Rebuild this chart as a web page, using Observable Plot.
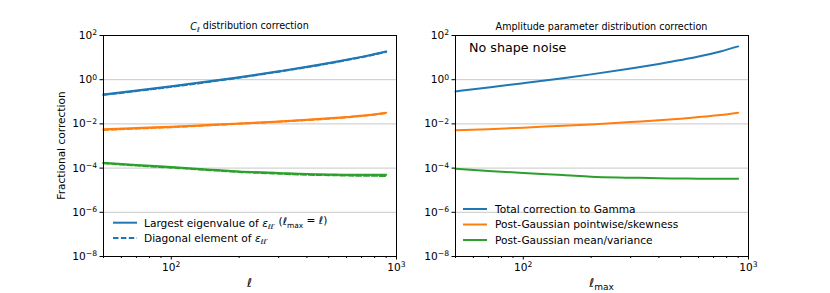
<!DOCTYPE html>
<html><head><meta charset="utf-8">
<script src="https://cdn.jsdelivr.net/npm/d3@7"></script>
<script src="https://cdn.jsdelivr.net/npm/@observablehq/plot@0.6"></script>
<style>
body{margin:0;background:#fff;font-family:"DejaVu Sans",sans-serif}
#c{position:relative;width:830px;height:293px;overflow:hidden;background:#fff}
#c svg{position:absolute;top:0;overflow:visible}
</style>
</head><body><div id="c"></div>
<script>
// multipole values at which the curves were read
const ell = [50, 70, 100, 150, 200, 300, 400, 500, 600, 750, 900];

// Left panel: C_ell distribution correction (solid = largest eigenvalue, dashed = diagonal element)
const leftTotalSolid  = [0.217, 0.324, 0.507, 0.865, 1.3, 2.42, 3.85, 5.69, 8.02, 12.6, 19.0];
const leftTotalDashed = [0.203, 0.305, 0.478, 0.818, 1.23, 2.3, 3.66, 5.42, 7.65, 12.0, 18.3];
const leftSkewSolid   = [0.00566, 0.0065, 0.00746, 0.0091, 0.01056, 0.013, 0.0155, 0.0178, 0.0204, 0.0251, 0.0321];
const leftSkewDashed  = [0.0053, 0.0061, 0.0071, 0.0087, 0.0101, 0.0125, 0.0149, 0.0171, 0.0197, 0.0243, 0.031];
const leftMeanSolid   = [1.76e-4, 1.38e-4, 1.12e-4, 8.5e-5, 7.1e-5, 6.0e-5, 5.37e-5, 5.2e-5, 5.0e-5, 5.0e-5, 5.0e-5];
const leftMeanDashed  = [1.65e-4, 1.3e-4, 1.05e-4, 8.0e-5, 6.7e-5, 5.6e-5, 5.0e-5, 4.8e-5, 4.6e-5, 4.5e-5, 4.4e-5];

// Right panel: amplitude parameter distribution correction
const rightTotal = [0.296, 0.443, 0.692, 1.17, 1.74, 3.2, 5.15, 7.71, 11.1, 19.0, 32.1];
const rightSkew  = [0.00513, 0.0058, 0.00676, 0.0083, 0.0095, 0.0122, 0.0145, 0.0172, 0.0204, 0.025, 0.032];
const rightMean  = [9.4e-5, 7.4e-5, 6.0e-5, 4.9e-5, 4.1e-5, 3.7e-5, 3.46e-5, 3.4e-5, 3.3e-5, 3.3e-5, 3.3e-5];

const seriesNames = ["Total correction to Gamma", "Post-Gaussian pointwise/skewness", "Post-Gaussian mean/variance"];
const colors = ["#1f77b4", "#ff7f0e", "#2ca02c"];

const xMajor = [100, 1000];
const xMinor = [50, 60, 70, 80, 90, 200, 300, 400, 500, 600, 700, 800, 900];
const yMajor = [1e-8, 1e-6, 1e-4, 1e-2, 1, 100];

const toRows = (vals) => ell.map((l, i) => ({ell: l, v: vals[i]}));
const expFmt = d => "E" + Math.round(Math.log10(d));

function fixTicks(svg) {
  svg.querySelectorAll("text").forEach(t => {
    const s = t.textContent;
    if (/^E-?\d+$/.test(s)) {
      const e = s.slice(1).replace("-", "\u2212");
      t.textContent = "";
      const ns = "http://www.w3.org/2000/svg";
      const a = document.createElementNS(ns, "tspan"); a.textContent = "10"; t.appendChild(a);
      const b = document.createElementNS(ns, "tspan");
      b.setAttribute("dy", "-0.45em"); b.setAttribute("font-size", "0.72em"); b.textContent = e;
      t.appendChild(b);
    }
  });
}

function panel(opts) {
  const marks = [
    Plot.gridY(yMajor, {stroke: "#c8c8c8", strokeOpacity: 1, strokeWidth: 1}),
    ...opts.lines.map(L => Plot.line(toRows(L.vals), {x: "ell", y: "v", stroke: L.color, strokeWidth: 2, strokeDasharray: L.dash || null, curve: "monotone-x"})),
    Plot.frame({stroke: "black", strokeWidth: 1}),
    Plot.axisX({ticks: xMinor, tickSize: 2, tickFormat: () => "", label: null}),
    Plot.axisX({ticks: xMajor, tickSize: 3.5, tickPadding: 3, tickFormat: expFmt, label: null}),
    Plot.axisY({ticks: yMajor, tickSize: 3.5, tickPadding: 3, tickFormat: expFmt, label: null})
  ];
  const svg = Plot.plot({
    width: 415, height: 293,
    marginLeft: opts.mL, marginRight: opts.mR, marginTop: 35, marginBottom: 37,
    x: {type: "log", domain: [50, 1000]},
    y: {type: "log", domain: [1e-8, 1e2]},
    style: {fontFamily: "DejaVu Sans", fontSize: "10.6px", color: "black", background: "transparent"},
    marks
  });
  svg.style.left = opts.left + "px";
  fixTicks(svg);
  return svg;
}

const c = document.getElementById("c");

// LEFT
const L = panel({left: 0, mL: 103, mR: 19, lines: [
  {vals: leftTotalSolid, color: colors[0]},
  {vals: leftSkewSolid, color: colors[1]},
  {vals: leftMeanSolid, color: colors[2]},
  {vals: leftTotalDashed, color: colors[0], dash: "5.5,2.4"},
  {vals: leftSkewDashed, color: colors[1], dash: "5.5,2.4"},
  {vals: leftMeanDashed, color: colors[2], dash: "5.5,2.4"}
]});
c.appendChild(L);
// RIGHT
const R = panel({left: 415, mL: 40, mR: 82, lines: [
  {vals: rightTotal, color: colors[0]},
  {vals: rightSkew, color: colors[1]},
  {vals: rightMean, color: colors[2]}
]});
c.appendChild(R);

// annotations
const Ls = d3.select(L), Rs = d3.select(R);
function title(sel, x, html) {
  sel.append("text").attr("x", x).attr("y", 30).attr("text-anchor", "middle")
    .attr("font-size", 9.6).attr("fill", "black").html(html);
}
title(Ls, 249.5, '<tspan font-style="italic">C</tspan><tspan font-style="italic" font-size="0.7em" dy="0.25em">ℓ</tspan><tspan dy="-0.25em"> distribution correction</tspan>');
title(Rs, 186.5, 'Amplitude parameter distribution correction');

Ls.append("text").attr("transform", "translate(65,145.5) rotate(-90)").attr("text-anchor", "middle")
  .attr("font-size", 10.6).attr("fill", "black").text("Fractional correction");

Ls.append("text").attr("x", 249.5).attr("y", 287).attr("text-anchor", "middle").attr("font-size", 12)
  .attr("font-style", "italic").attr("fill", "black").text("ℓ");
Rs.append("text").attr("x", 186.5).attr("y", 287).attr("text-anchor", "middle").attr("font-size", 12)
  .attr("fill", "black").html('<tspan font-style="italic">ℓ</tspan><tspan font-size="0.75em" dy="0.3em">max</tspan>');

Rs.append("text").attr("x", 54).attr("y", 52).attr("text-anchor", "start").attr("font-size", 12.7)
  .attr("fill", "black").text("No shape noise");

// left legend
const epsSub = '<tspan font-style="italic">ε</tspan><tspan font-style="italic" font-size="0.65em" dy="0.3em">ℓℓ′</tspan>';
const legL = [
  {y: 222.7, dash: null, html: 'Largest eigenvalue of ' + epsSub + '<tspan dy="-0.3em"> (</tspan><tspan font-style="italic">ℓ</tspan><tspan font-size="0.7em" dy="0.3em">max</tspan><tspan dy="-0.3em"> = </tspan><tspan font-style="italic">ℓ</tspan>)'},
  {y: 238, dash: "5.5,2.4", html: 'Diagonal element of ' + epsSub}
];
legL.forEach(e => {
  Ls.append("line").attr("x1", 113).attr("x2", 137).attr("y1", e.y).attr("y2", e.y)
    .attr("stroke", colors[0]).attr("stroke-width", 2).attr("stroke-dasharray", e.dash);
  Ls.append("text").attr("x", 144).attr("y", e.y).attr("dy", "0.36em").attr("text-anchor", "start")
    .attr("font-size", 10.6).attr("fill", "black").html(e.html);
});
// right legend
[209, 224.5, 240].forEach((y, i) => {
  Rs.append("line").attr("x1", 48).attr("x2", 72).attr("y1", y).attr("y2", y)
    .attr("stroke", colors[i]).attr("stroke-width", 2);
  Rs.append("text").attr("x", 80).attr("y", y).attr("dy", "0.36em").attr("text-anchor", "start")
    .attr("font-size", 10.6).attr("fill", "black").text(seriesNames[i]);
});
</script></body></html>
